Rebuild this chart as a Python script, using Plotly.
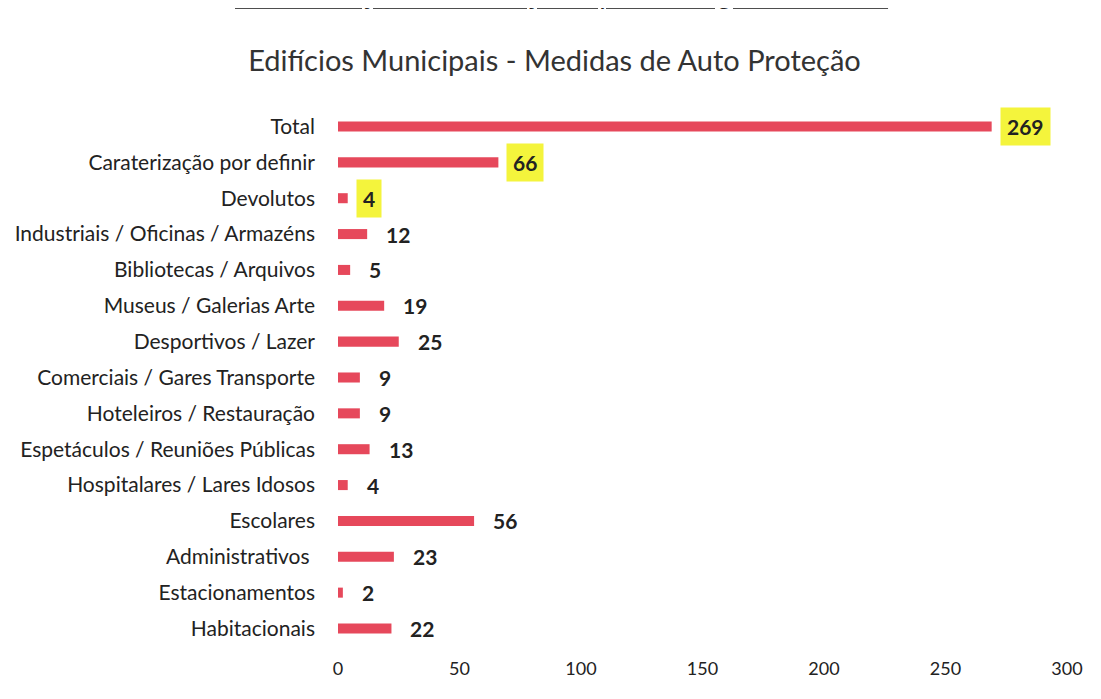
import plotly.graph_objects as go

categories = [
    "Total",
    "Caraterização por definir",
    "Devolutos",
    "Industriais / Oficinas / Armazéns",
    "Bibliotecas / Arquivos",
    "Museus / Galerias Arte",
    "Desportivos / Lazer",
    "Comerciais / Gares Transporte",
    "Hoteleiros / Restauração",
    "Espetáculos / Reuniões Públicas",
    "Hospitalares / Lares Idosos",
    "Escolares",
    "Administrativos ",
    "Estacionamentos",
    "Habitacionais",
]
values = [269, 66, 4, 12, 5, 19, 25, 9, 9, 13, 4, 56, 23, 2, 22]
highlighted = [True, True, True] + [False] * 12

x_ticks = [0, 50, 100, 150, 200, 250, 300]

FONT = "Lato, Open Sans, sans-serif"
BAR_COLOR = "#E6485B"

fig = go.Figure(go.Bar(
    x=values,
    y=categories,
    orientation="h",
    marker=dict(color=BAR_COLOR, line=dict(width=0)),
    width=0.28,
    hoverinfo="x+y",
))

# data labels, some with the yellow marker highlight
for cat, val, hl in zip(categories, values, highlighted):
    fig.add_annotation(
        x=val, y=cat, xref="x", yref="y",
        text=f"<b>{val}</b>",
        showarrow=False, xanchor="left", xshift=8 if hl else 12,
        font=dict(family=FONT, size=21, color="#222222"),
        bgcolor="#F4F43C" if hl else "rgba(0,0,0,0)",
        borderpad=6,
    )

# cut-off underlined heading at the very top of the scan
fig.add_annotation(
    x=0.306, y=1, xref="paper", yref="paper",
    xanchor="center", yanchor="bottom", yshift=95,
    text="<u>Caraterização da Utilização-Tipo e Categoria de Risco</u>",
    showarrow=False, font=dict(family=FONT, size=28, color="#222222"),
)

# the page body has an 8px margin, so the figure is a bit smaller than the window
fig.update_layout(
    width=1093, height=691,
    paper_bgcolor="white", plot_bgcolor="white",
    margin=dict(l=330, r=34, t=99, b=51),
    title=dict(
        text="Edifícios Municipais - Medidas de Auto Proteção",
        x=0.5, xanchor="center", y=0.924, yanchor="middle",
        font=dict(family=FONT, size=29, color="#333333"),
    ),
    showlegend=False,
    bargap=0.7,
)
fig.update_xaxes(
    range=[0, 300], tickvals=x_ticks, showgrid=False, zeroline=False,
    showline=False, ticks="", ticklabelstandoff=8, automargin=False,
    tickfont=dict(family=FONT, size=18, color="#222222"),
)
fig.update_yaxes(
    autorange="reversed", showgrid=False, showline=False, ticks="",
    ticklabelstandoff=22, automargin=False,
    tickfont=dict(family=FONT, size=21, color="#222222"),
)

fig.write_html("out.html")
